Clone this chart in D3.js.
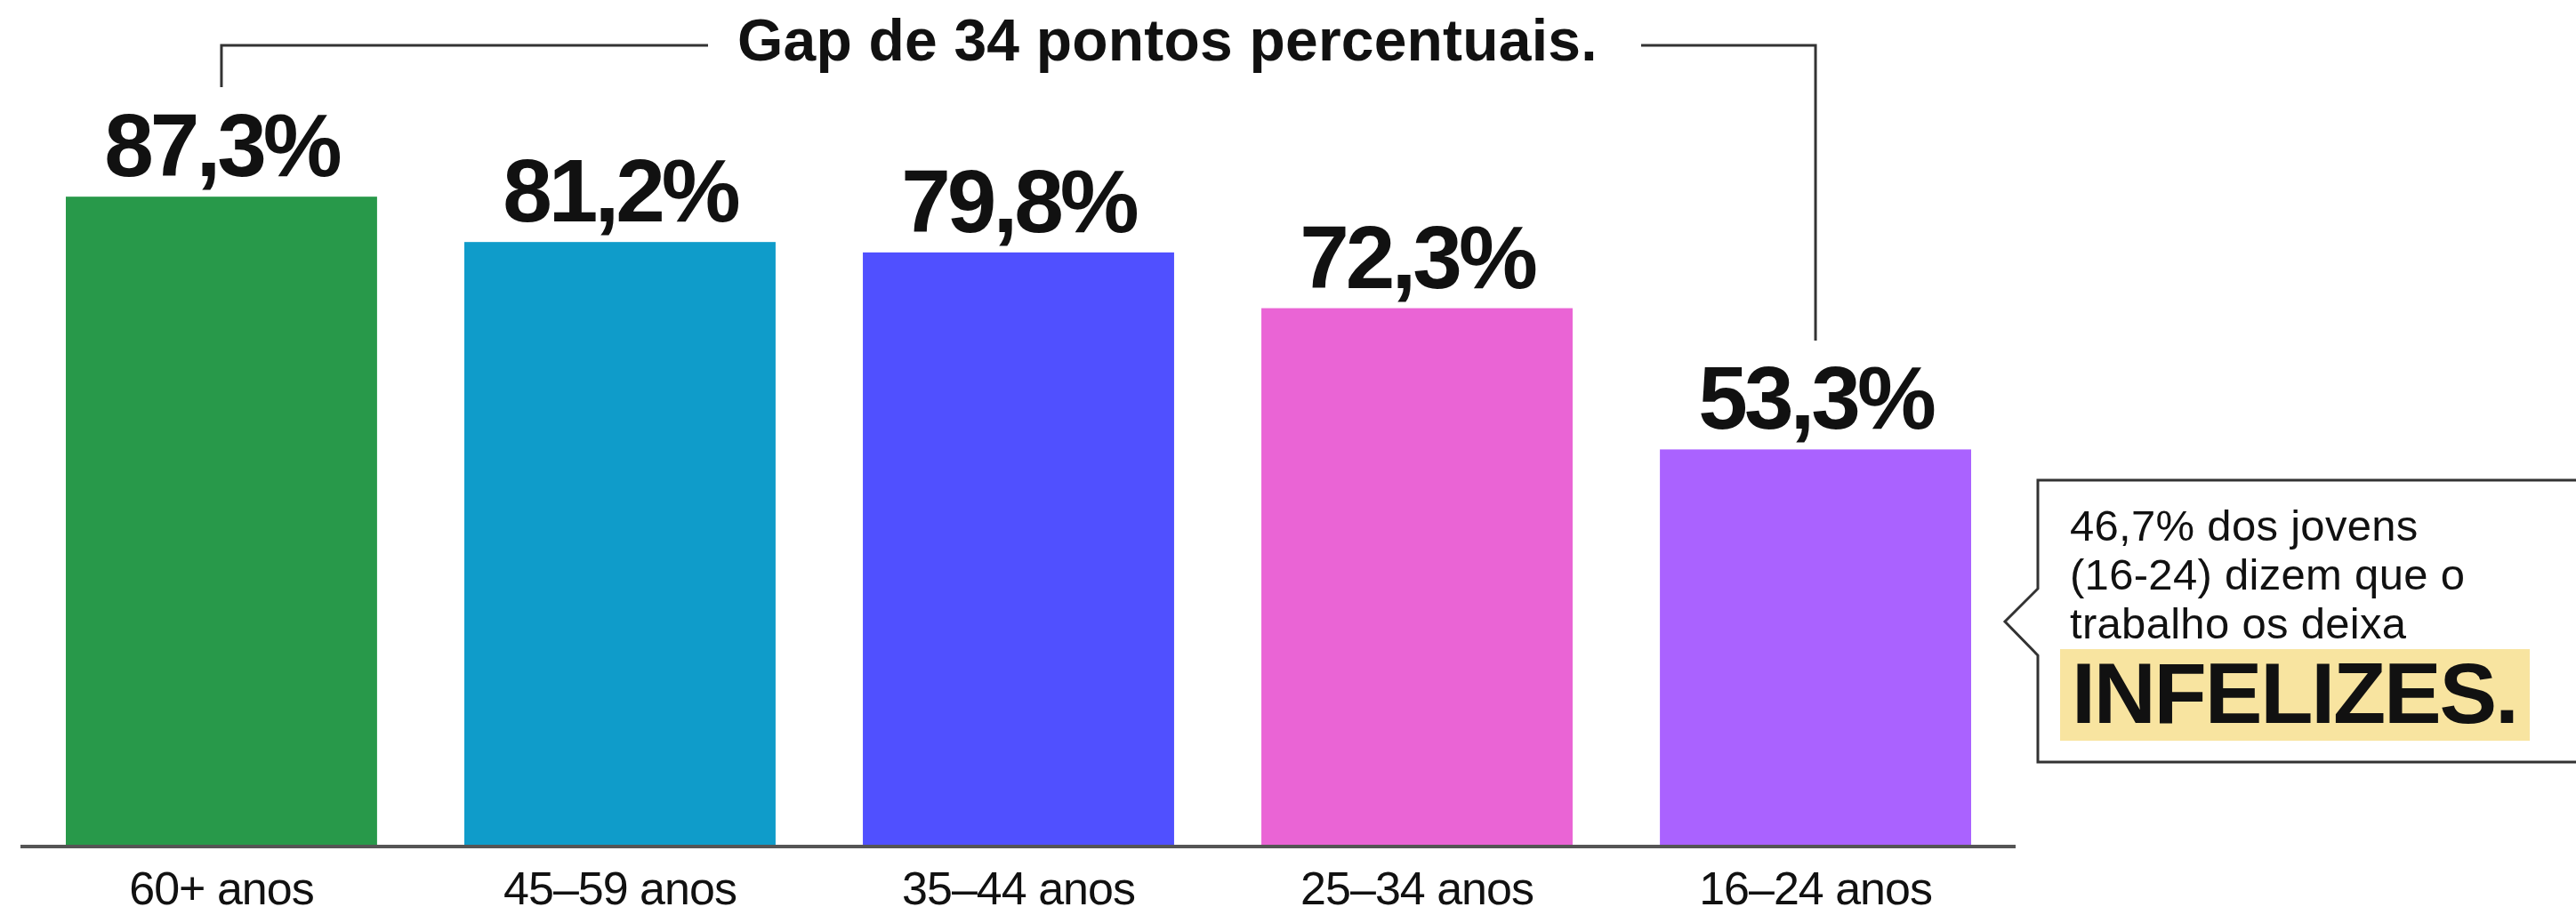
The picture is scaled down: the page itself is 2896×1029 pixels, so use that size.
<!DOCTYPE html>
<html>
<head>
<meta charset="utf-8">
<script src="https://cdn.jsdelivr.net/npm/d3@7"></script>
<style>
  html, body { margin: 0; padding: 0; background: #ffffff; }
  svg { display: block; }
  text { font-family: "Liberation Sans", Arial, Helvetica, sans-serif; fill: #111; }
</style>
</head>
<body>
<script>
const categories = ["60+ anos", "45\u201359 anos", "35\u201344 anos", "25\u201334 anos", "16\u201324 anos"];
const values = [87.3, 81.2, 79.8, 72.3, 53.3];
const valueLabels = ["87,3%", "81,2%", "79,8%", "72,3%", "53,3%"];
const barColors = ["#28994a", "#0f9cca", "#5050ff", "#ea64d5", "#aa62ff"];
const gapTitle = "Gap de 34 pontos percentuais.";
const calloutLines = ["46,7% dos jovens", "(16-24) dizem que o", "trabalho os deixa"];
const calloutHighlight = "INFELIZES.";

const W = 2896, H = 1029;
const svg = d3.select("body").append("svg").attr("width", W).attr("height", H);

const x = d3.scaleBand().domain(categories).range([74, 2216]).paddingInner(0.219).paddingOuter(0);
const y = d3.scaleLinear().domain([0, 100]).range([951, 115]);

// bars
svg.append("g").selectAll("rect").data(values).join("rect")
  .attr("x", (d, i) => x(categories[i]))
  .attr("y", d => y(d))
  .attr("width", x.bandwidth())
  .attr("height", d => y(0) - y(d))
  .attr("fill", (d, i) => barColors[i]);

// baseline axis
const axis = d3.axisBottom(x).tickSize(0).tickPadding(0);
const gx = svg.append("g").attr("transform", `translate(0,${y(0)})`).call(axis);
gx.select(".domain").remove();
gx.selectAll(".tick text")
  .attr("y", 66)
  .attr("dy", 0)
  .attr("font-size", 52)
  .attr("letter-spacing", -1)
  .attr("fill", "#111")
  .style("font-family", '"Liberation Sans", Arial, sans-serif');
svg.append("line")
  .attr("x1", 23).attr("x2", 2266)
  .attr("y1", y(0) + 1).attr("y2", y(0) + 1)
  .attr("stroke", "#555").attr("stroke-width", 4);

// value labels
svg.append("g").selectAll("text").data(values).join("text")
  .attr("x", (d, i) => x(categories[i]) + x.bandwidth() / 2)
  .attr("y", d => y(d) - 23)
  .attr("text-anchor", "middle")
  .attr("font-size", 100)
  .attr("font-weight", 700)
  .attr("letter-spacing", -4)
  .text((d, i) => valueLabels[i]);

// gap bracket
const xFirst = x(categories[0]) + x.bandwidth() / 2;
const xLast = x(categories[4]) + x.bandwidth() / 2;
const bracketY = 51;
svg.append("path")
  .attr("d", `M${xFirst},98 V${bracketY} H796`)
  .attr("fill", "none").attr("stroke", "#333").attr("stroke-width", 3);
svg.append("path")
  .attr("d", `M1845,${bracketY} H${xLast} V383`)
  .attr("fill", "none").attr("stroke", "#333").attr("stroke-width", 3);
svg.append("text")
  .attr("x", 829).attr("y", 68)
  .attr("font-size", 66).attr("font-weight", 700)
  .attr("letter-spacing", 0.2)
  .text(gapTitle);

// callout box with pointer
svg.append("path")
  .attr("d", "M2920,540 H2291 V662 L2254,699 L2291,737 V857 H2920")
  .attr("fill", "#ffffff").attr("stroke", "#333").attr("stroke-width", 3);
const cl = svg.append("g");
cl.selectAll("text").data(calloutLines).join("text")
  .attr("x", 2327)
  .attr("y", (d, i) => 608 + i * 55)
  .attr("font-size", 49)
  .attr("letter-spacing", 0.3)
  .text(d => d);
svg.append("rect")
  .attr("x", 2316).attr("y", 730).attr("width", 528).attr("height", 103)
  .attr("fill", "#f8e4a0");
svg.append("text")
  .attr("x", 2329).attr("y", 813)
  .attr("font-size", 97).attr("font-weight", 700)
  .attr("letter-spacing", -2.2)
  .text(calloutHighlight);
</script>
</body>
</html>
